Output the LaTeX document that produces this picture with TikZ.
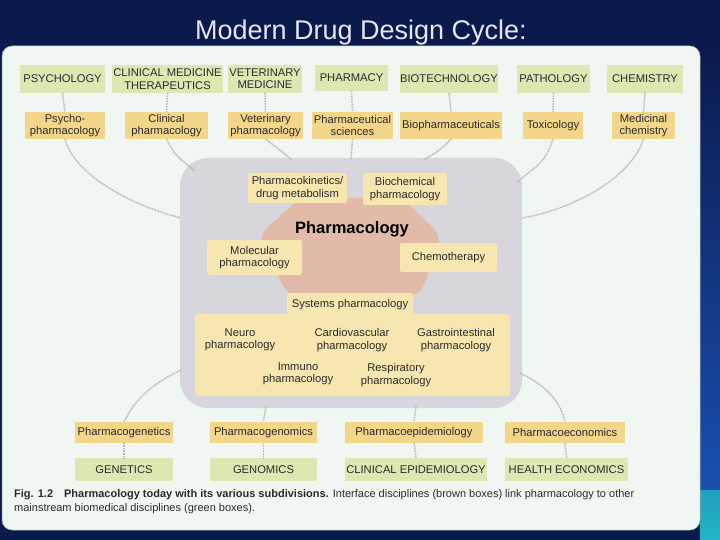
\documentclass[tikz,border=0pt]{standalone}
\usepackage{fontspec}
\setmainfont{Liberation Sans}
\definecolor{navy}{HTML}{0B1A4C}
\definecolor{slideblue}{HTML}{1A4FB0}
\definecolor{teal}{HTML}{22B4C4}
\definecolor{panel}{HTML}{F0F7F3}
\definecolor{grnbox}{HTML}{DAE9B2}
\definecolor{brnbox}{HTML}{F3D68A}
\definecolor{innbox}{HTML}{F8E6B0}
\definecolor{blobc}{HTML}{D6D6DC}
\definecolor{pinkc}{HTML}{E2BAA8}
\definecolor{txt}{HTML}{2A2A2A}
\definecolor{titlec}{HTML}{E6E6F6}
\tikzset{
  box/.style={inner sep=0pt, align=center, text=txt, font=\fontsize{11.2}{12.3}\selectfont},
  grn/.style={box, fill=grnbox},
  brn/.style={box, fill=brnbox},
  inn/.style={box, fill=innbox, rounded corners=2pt},
  lbl/.style={box},
  link/.style={draw=gray!60, line width=1.6pt, dash pattern=on 0.8pt off 0.8pt}
}
\begin{document}
\begin{tikzpicture}[x=1pt,y=-1pt]
\useasboundingbox (0,0) rectangle (720,540);
% slide background
\fill[navy] (0,0) rectangle (720,540);
\shade[top color=navy, bottom color=slideblue] (700,45) rectangle (720,490);
\shade[top color=teal!80!slideblue, bottom color=teal] (700,490) rectangle (720,540);
\node[text=titlec, font=\fontsize{27}{30}\selectfont] (title) at (361,33) {Modern Drug Design Cycle:};
% panel
\fill[panel, draw=gray!70, line width=0.5pt, rounded corners=10pt] (2,46) rectangle (700,530);
% central blob
\fill[blobc, rounded corners=28pt] (180,158) rectangle (522,408);
% pink core
\fill[pinkc, rounded corners=12pt] (300,198) -- (402,198) -- (442,236) -- (420,296) -- (288,296) -- (258,236) -- cycle;
% big systems box
\fill[innbox, rounded corners=3pt] (195,314) rectangle (510,396);
\node[inn, minimum width=126, minimum height=23] (sys) at (350,304.5) {Systems pharmacology};
% inner boxes
\node[inn, minimum width=99, minimum height=30] (pk) at (297.5,188) {Pharmacokinetics/\\drug metabolism};
\node[inn, minimum width=84, minimum height=32] (bioc) at (405,189) {Biochemical\\pharmacology};
\node[inn, minimum width=95, minimum height=35] (mol) at (254.5,257.5) {Molecular\\pharmacology};
\node[inn, minimum width=97, minimum height=29] (chemo) at (448.5,257.5) {Chemotherapy};
\node[lbl, font=\bfseries\fontsize{16.5}{18}\selectfont, text=black] (core) at (352,229) {Pharmacology};
\node[lbl] (neuro) at (240,340) {Neuro\\pharmacology};
\node[lbl] (cardio) at (352,340) {Cardiovascular\\pharmacology};
\node[lbl] (gastro) at (456,340) {Gastrointestinal\\pharmacology};
\node[lbl] (immuno) at (298,374) {Immuno\\pharmacology};
\node[lbl] (resp) at (396,375) {Respiratory\\pharmacology};
% top green row
\node[grn, minimum width=85, minimum height=28] (psy) at (62.5,79) {PSYCHOLOGY};
\node[grn, minimum width=111, minimum height=28] (clin) at (167.5,79) {CLINICAL MEDICINE\\THERAPEUTICS};
\node[grn, minimum width=74, minimum height=28] (vet) at (265,79) {VETERINARY\\MEDICINE};
\node[grn, minimum width=73, minimum height=26] (pharm) at (351.5,78) {PHARMACY};
\node[grn, minimum width=98, minimum height=28] (biot) at (449,79) {BIOTECHNOLOGY};
\node[grn, minimum width=73, minimum height=28] (path) at (553.5,79) {PATHOLOGY};
\node[grn, minimum width=76, minimum height=28] (chem) at (645,79) {CHEMISTRY};
% top brown row
\node[brn, minimum width=80, minimum height=27] (psyp) at (65,125.5) {Psycho-\\pharmacology};
\node[brn, minimum width=83, minimum height=27] (clinp) at (166.5,125.5) {Clinical\\pharmacology};
\node[brn, minimum width=75, minimum height=27] (vetp) at (265.5,125.5) {Veterinary\\pharmacology};
\node[brn, minimum width=81, minimum height=27] (phs) at (352.5,125.5) {Pharmaceutical\\sciences};
\node[brn, minimum width=102, minimum height=27] (biop) at (451,125.5) {Biopharmaceuticals};
\node[brn, minimum width=60, minimum height=27] (tox) at (553,125.5) {Toxicology};
\node[brn, minimum width=63, minimum height=27] (medc) at (643.5,125.5) {Medicinal\\chemistry};
% bottom brown row
\node[brn, minimum width=98, minimum height=21] (pgen) at (124,432.5) {Pharmacogenetics};
\node[brn, minimum width=107, minimum height=21] (pgnm) at (263.5,432.5) {Pharmacogenomics};
\node[brn, minimum width=138, minimum height=21] (pepi) at (414,432.5) {Pharmacoepidemiology};
\node[brn, minimum width=120, minimum height=21] (pecon) at (565,432.5) {Pharmacoeconomics};
% bottom green row
\node[grn, minimum width=98, minimum height=23] (gen) at (124,469.5) {GENETICS};
\node[grn, minimum width=107, minimum height=23] (genom) at (263.5,469.5) {GENOMICS};
\node[grn, minimum width=142, minimum height=23] (cepi) at (416,469.5) {CLINICAL EPIDEMIOLOGY};
\node[grn, minimum width=123, minimum height=23] (heco) at (566.5,469.5) {HEALTH ECONOMICS};
% blob attachment points
\coordinate (b1) at (181,218);
\coordinate (b2) at (195,171);
\coordinate (b3) at (292,160);
\coordinate (b4) at (351,159);
\coordinate (b5) at (424,160);
\coordinate (b6) at (517,182);
\coordinate (b7) at (522,218);
\coordinate (b8) at (181,370);
\coordinate (b9) at (266,406);
\coordinate (b10) at (416,406);
\coordinate (b11) at (520,373);
% green to brown links
\draw[link] (psy.south) -- (psyp.north);
\draw[link] (clin.south) -- (clinp.north);
\draw[link] (vet.south) -- (vetp.north);
\draw[link] (pharm.south) -- (phs.north);
\draw[link] (biot.south) -- (biop.north);
\draw[link] (path.south) -- (tox.north);
\draw[link] (chem.south) -- (medc.north);
\draw[link] (pgen.south) -- (gen.north);
\draw[link] (pgnm.south) -- (genom.north);
\draw[link] (pepi.south) -- (cepi.north);
\draw[link] (pecon.south) -- (heco.north);
% brown to blob links
\draw[link] (psyp.south) .. controls (75,175) and (130,205) .. (b1);
\draw[link] (clinp.south) .. controls (175,155) .. (b2);
\draw[link] (vetp.south) .. controls (280,150) .. (b3);
\draw[link] (phs.south) -- (b4);
\draw[link] (biop.south) .. controls (440,150) .. (b5);
\draw[link] (tox.south) .. controls (545,160) .. (b6);
\draw[link] (medc.south) .. controls (630,180) and (570,210) .. (b7);
\draw[link] (b8) .. controls (150,385) and (135,400) .. (pgen.north);
\draw[link] (b9) -- (pgnm.north);
\draw[link] (b10) -- (pepi.north);
\draw[link] (b11) .. controls (545,385) and (560,400) .. (pecon.north);
% caption
\node[anchor=north west, inner sep=0pt, align=left, text=txt, font=\fontsize{11}{14}\selectfont] (cap) at (14,489)
  {\textbf{Fig. 1.2\quad Pharmacology today with its various subdivisions.} Interface disciplines (brown boxes) link pharmacology to other\\
   mainstream biomedical disciplines (green boxes).};
\end{tikzpicture}
\end{document}
